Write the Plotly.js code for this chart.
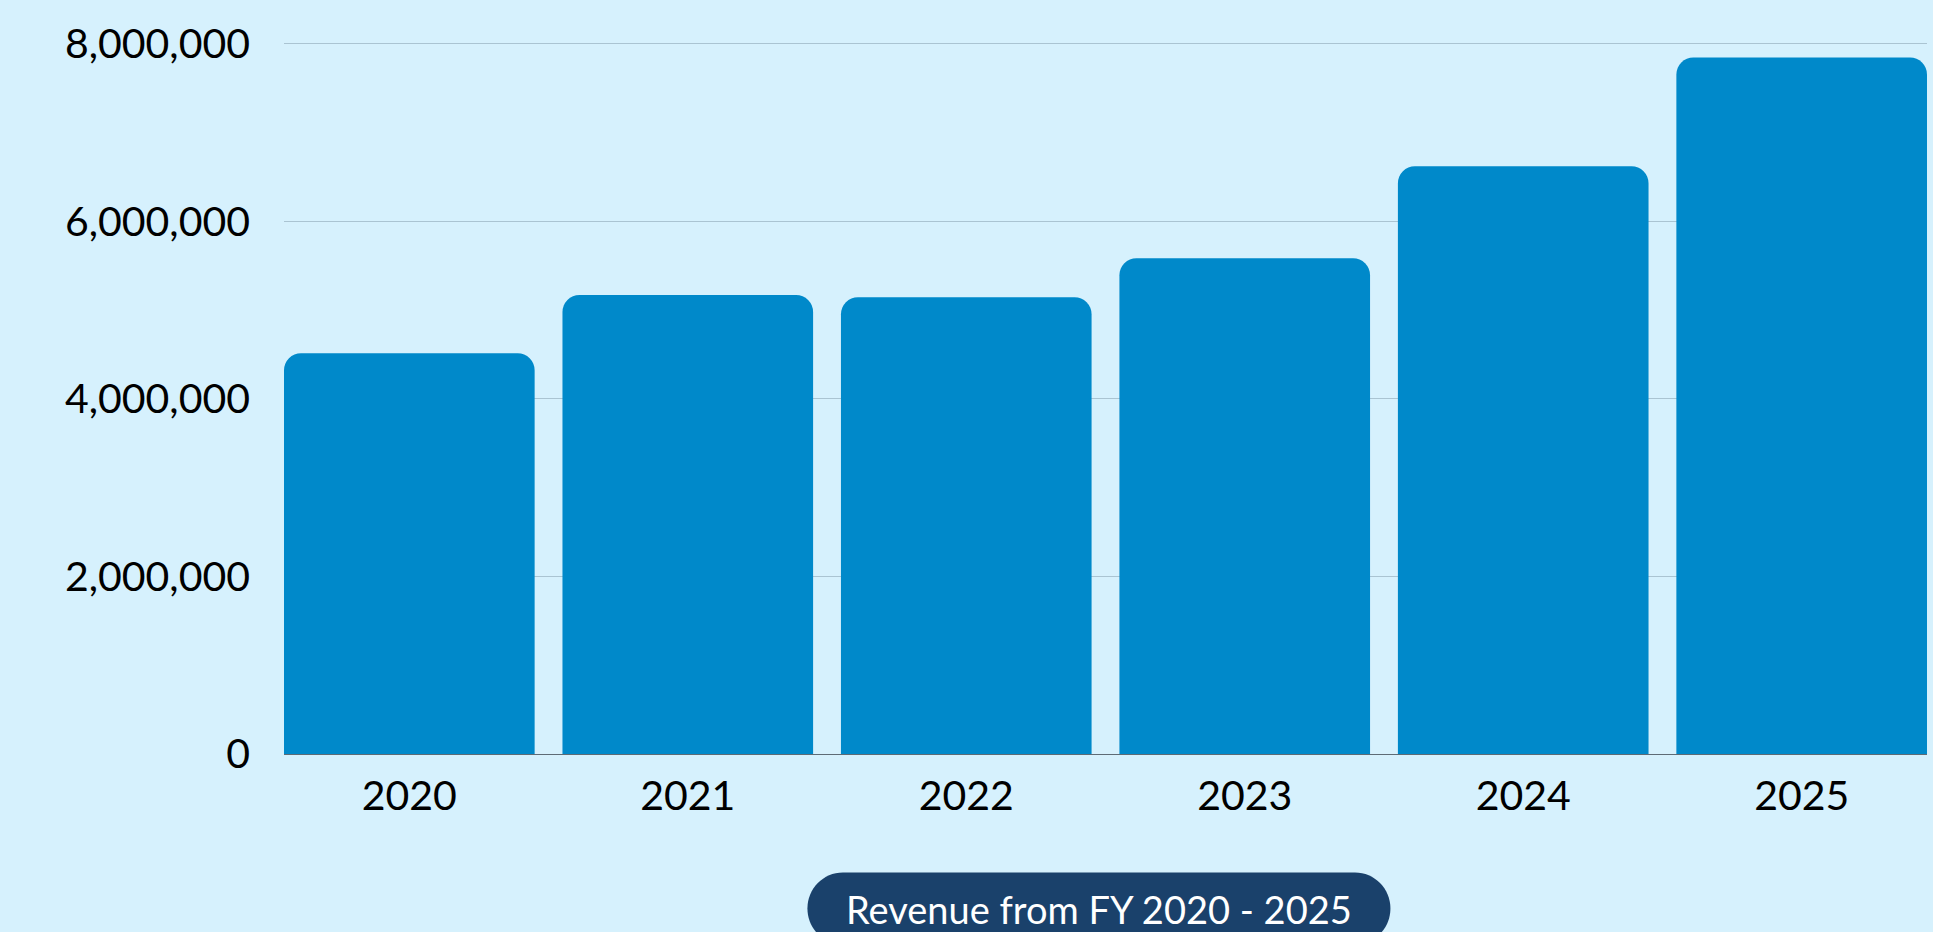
<!DOCTYPE html>
<html>
<head>
<meta charset="utf-8">
<script src="https://cdn.plot.ly/plotly-3.0.1.min.js"></script>
<style>html,body{margin:0;padding:0;background:#D6F1FD;}#chart{width:1933px;height:932px;}</style>
</head>
<body>
<div id="chart"></div>
<script>
const years = ["2020", "2021", "2022", "2023", "2024", "2025"];
const revenue = [4515000, 5170000, 5145000, 5585000, 6620000, 7845000];
const yTickValues = [0, 2000000, 4000000, 6000000, 8000000];
const seriesName = "Revenue from FY 2020 - 2025";

const FONT = "Lato, 'Open Sans', sans-serif";

const trace = {
  type: "bar",
  x: years,
  y: revenue,
  name: seriesName,
  marker: { color: "#0089CA", cornerradius: 17 },
  hoverinfo: "x+y"
};

const layout = {
  width: 1933,
  height: 932,
  paper_bgcolor: "#D6F1FD",
  plot_bgcolor: "#D6F1FD",
  margin: { l: 284, r: 6, t: 42, b: 178 },
  bargap: 0.1,
  showlegend: false,
  font: { family: FONT, color: "#000000" },
  xaxis: {
    type: "category",
    range: [-0.45, 5.45],
    showgrid: false,
    showline: false,
    ticks: "",
    ticklabelstandoff: 14,
    tickfont: { family: FONT, size: 41, color: "#000000" },
    fixedrange: true
  },
  yaxis: {
    range: [0, 8020000],
    tickvals: yTickValues,
    tickformat: ",d",
    showgrid: true,
    gridcolor: "#AAC4D2",
    gridwidth: 1,
    zeroline: true,
    zerolinecolor: "#5E6B75",
    zerolinewidth: 1,
    showline: false,
    ticks: "",
    ticklabelstandoff: 33,
    tickfont: { family: FONT, size: 41, color: "#000000" },
    fixedrange: true
  },
  shapes: [{
    type: "path",
    xref: "paper", yref: "paper",
    xsizemode: "pixel", ysizemode: "pixel",
    xanchor: 0.496, yanchor: -0.217,
    path: "M -256 36 L 256 36 C 275.6 36 291.5 19.9 291.5 0 C 291.5 -19.9 275.6 -36 256 -36 L -256 -36 C -275.6 -36 -291.5 -19.9 -291.5 0 C -291.5 19.9 -275.6 36 -256 36 Z",
    fillcolor: "#1A416B",
    line: { width: 0 },
    layer: "above"
  }],
  annotations: [{
    xref: "paper", yref: "paper",
    x: 0.496, y: -0.217,
    xanchor: "center", yanchor: "middle",
    text: seriesName,
    showarrow: false,
    font: { family: FONT, size: 38, color: "#FFFFFF" }
  }]
};

Plotly.newPlot("chart", [trace], layout, { displayModeBar: false, responsive: false });
</script>
</body>
</html>
